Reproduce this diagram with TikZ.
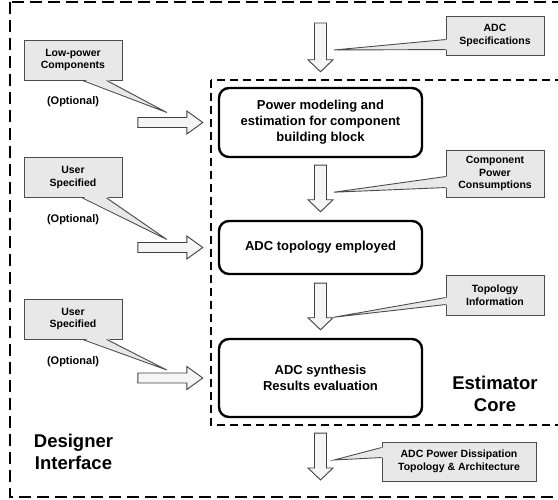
\documentclass[tikz,border=0pt]{standalone}
\usepackage{fontspec}
\setmainfont{Liberation Sans}
\usetikzlibrary{calc}
\tikzstyle{stage} = [draw, line width=2.4pt, rounded corners=10pt, minimum width=203pt, align=center, font=\fontsize{13}{16}\selectfont\bfseries]
\tikzstyle{note} = [draw=black!70, fill=black!9, line width=0.9pt, minimum width=98pt, minimum height=40pt, align=center, inner sep=2pt, font=\fontsize{10.5}{12.5}\selectfont\bfseries]
\tikzstyle{optional} = [font=\fontsize{11}{13}\selectfont\bfseries]
\tikzstyle{title} = [align=center, font=\fontsize{18.5}{21.5}\selectfont\bfseries]
\tikzstyle{frame} = [line width=1.3pt, dash pattern=on 12pt off 6pt]
\tikzstyle{feed} = [draw=black!75, fill=black!4, line width=0.9pt]
\tikzset{
	gap in/.store in=\feedin, gap out/.store in=\feedout, gap in=0, gap out=0,
	down feed/.style={feed, to path={
		($(\tikztostart)+(-6,\feedin)$) -- ($(\tikztotarget)+(-6,-\feedout-12)$)
		-- ($(\tikztotarget)+(-12.5,-\feedout-12)$) -- ($(\tikztotarget)+(0,-\feedout)$)
		-- ($(\tikztotarget)+(12.5,-\feedout-12)$) -- ($(\tikztotarget)+(6,-\feedout-12)$)
		-- ($(\tikztostart)+(6,\feedin)$) -- cycle}},
	right feed/.style={feed, to path={
		($(\tikztostart)+(\feedin,-5)$) -- ($(\tikztotarget)+(-\feedout-16,-5)$)
		-- ($(\tikztotarget)+(-\feedout-16,-11.5)$) -- ($(\tikztotarget)+(-\feedout,0)$)
		-- ($(\tikztotarget)+(-\feedout-16,11.5)$) -- ($(\tikztotarget)+(-\feedout-16,5)$)
		-- ($(\tikztostart)+(\feedin,5)$) -- cycle}}
}
% wedge of a note: node, first and second offset along its side, tip
\newcommand{\tipbelow}[4]{%
	\fill[black!9] ($(#1.south west)+(#2,-1.5)$) -- #4 -- ($(#1.south west)+(#3,-1.5)$) -- cycle;
	\draw[black!70, line width=0.9pt] ($(#1.south west)+(#2,0)$) -- #4 -- ($(#1.south west)+(#3,0)$);}
\newcommand{\tipleft}[4]{%
	\fill[black!9] ($(#1.north west)+(1.5,#2)$) -- #4 -- ($(#1.north west)+(1.5,#3)$) -- cycle;
	\draw[black!70, line width=0.9pt] ($(#1.north west)+(0,#2)$) -- #4 -- ($(#1.north west)+(0,#3)$);}

\begin{document}
\begin{tikzpicture}[x=1pt,y=-1pt]
	\useasboundingbox (0,0) rectangle (558,500);
	\draw[frame] (10,2) rectangle (575,497);
	\draw[frame, line width=1.4pt, dash pattern=on 8pt off 5pt] (211,80) rectangle (575,425);

	\node[stage, minimum height=69pt] (model) at (320.5,122.5) {Power modeling and\\estimation for component\\building block};
	\node[stage, minimum height=53pt] (topo) at (320.5,247.5) {ADC topology employed};
	\node[stage, minimum height=78pt] (synth) at (320.5,378) {ADC synthesis\\Results evaluation};

	\coordinate (spec) at (320.5,23);
	\coordinate (result) at (320.5,480);
	\coordinate (lowp) at ($(model.west)+(-80,0)$);
	\coordinate (user1) at ($(topo.west)+(-80,0)$);
	\coordinate (user2) at ($(synth.west)+(-80,0)$);

	\draw[down feed, gap out=15] (spec) to (model.north);
	\draw[down feed, gap in=7, gap out=8] (model.south) to (topo.north);
	\draw[down feed, gap in=8, gap out=8] (topo.south) to (synth.north);
	\draw[down feed, gap in=15] (synth.south) to (result);
	\draw[right feed, gap out=15] (lowp) to (model.west);
	\draw[right feed, gap out=15] (user1) to (topo.west);
	\draw[right feed, gap out=15] (user2) to (synth.west);

	\node[note] (lowc) at (73,60) {Low-power\\Components};
	\node[note] (usr1) at (73,177.5) {User\\Specified};
	\node[note] (usr2) at (73,319) {User\\Specified};
	\tipbelow{lowc}{59}{83}{($(lowp)+(29,-10)$)}
	\tipbelow{usr1}{59}{83}{($(user1)+(29,-8)$)}
	\tipbelow{usr2}{59}{83}{($(user2)+(29,-8)$)}
	\node[optional] (opt1) at (73,102) {(Optional)};
	\node[optional] (opt2) at (73,220) {(Optional)};
	\node[optional] (opt3) at (73,362) {(Optional)};

	\node[note, minimum height=39pt] (specc) at (495,35.5) {ADC\\Specifications};
	\node[note, minimum height=47pt] (cons) at (495,173.5) {Component\\Power\\Consumptions};
	\node[note] (info) at (495,295) {Topology\\Information};
	\node[note, minimum width=154pt, minimum height=39pt] (outc) at (459,461.5) {ADC Power Dissipation\\Topology \& Architecture};
	\tipleft{specc}{24}{34}{($(spec)+(13.5,27)$)}
	\tipleft{cons}{27}{38}{($(model.south)+(13.5,34)$)}
	\tipleft{info}{23}{30}{($(topo.south)+(13.5,42)$)}
	\tipleft{outc}{6}{16}{($(result)+(13.5,-20)$)}

	\node[title] (desi) at (73.5,452) {Designer\\Interface};
	\node[title] (esti) at (495,394) {Estimator\\Core};
\end{tikzpicture}
\end{document}
